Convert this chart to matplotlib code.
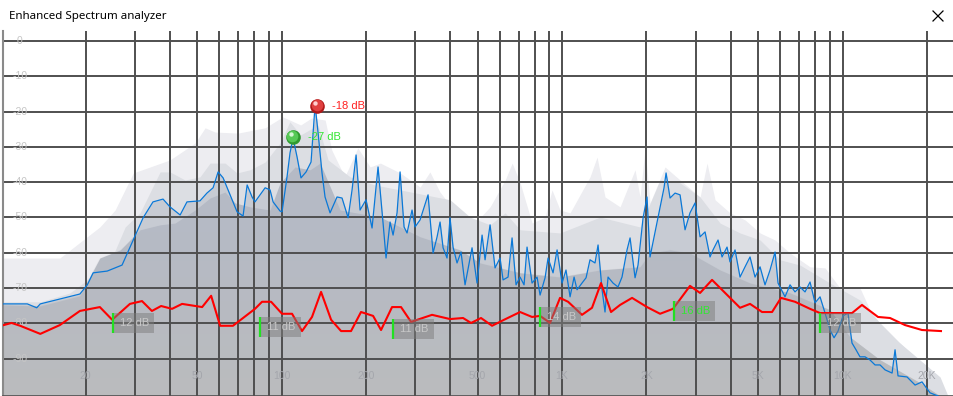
"""Enhanced spectrum analyzer window, redrawn with matplotlib
"""
import matplotlib
matplotlib.use('Agg')
import matplotlib.pyplot as plt
import numpy as np
from matplotlib.lines import Line2D
from matplotlib.patches import Rectangle
from matplotlib.transforms import blended_transform_factory, offset_copy

# live spectrum (blue line)
spec_freq = [10, 12.4, 13.4, 13.8, 19.1, 20.3, 21.3, 23.9, 27.0, 29.6, 32.1, 34.8, 37.8, 40.0,
             43.5, 46.0, 51.2, 54.2, 57.0, 59.4, 61.9, 69.4, 72.9, 75.4, 78.5, 80.4, 87.4, 91.0,
             93.3, 98.8, 100.4, 104.6, 107.2, 109.9, 113.6, 117.3, 122.3, 127.4, 131.7, 135.0,
             139.4, 142.9, 148.9, 157.7, 164.3, 172.7, 178.4, 184.4, 190.5, 200.1, 210.2, 220.8,
             230.1, 235.8, 243.7, 249.8, 258.1, 264.6, 273.4, 280.2, 291.9, 299.2, 311.8, 332.9,
             346.9, 358.5, 367.4, 376.6, 389.0, 398.7, 408.7, 422.3, 436.4, 451.0, 477.7, 497.7,
             518.7, 531.6, 553.9, 577.0, 601.2, 616.2, 642.0, 663.5, 685.5, 708.5, 732.1, 750.3,
             781.8, 814.6, 834.9, 869.9, 891.6, 928.8, 960.1, 1000, 1033, 1068, 1104, 1131, 1178,
             1218, 1258, 1311, 1344, 1389, 1423, 1459, 1520, 1583, 1636, 1705, 1748, 1821, 1866,
             1945, 2009, 2059, 2146, 2236, 2310, 2349, 2427, 2529, 2635, 2745, 2859, 2980, 3105,
             3235, 3370, 3454, 3599, 3719, 3875, 3971, 4138, 4311, 4492, 4680, 4876, 5081, 5293,
             5515, 5747, 5890, 6237, 6499, 6771, 7055, 7351, 7659, 7980, 8315, 8663, 9026, 9327,
             9639, 10040, 10460, 10810, 11170, 11540, 12030, 12530, 13060, 13610, 14180, 15020,
             15390, 15770, 16980, 18140, 19200, 20510, 21900]
spec_db = [-74.5, -74.5, -75.6, -74.5, -71.7, -69.1, -65.7, -65.2, -63.5, -56.4, -50.1, -45.6,
           -44.8, -47.0, -49.3, -45.6, -45.3, -43.1, -41.6, -37.1, -38.8, -48.4, -49.6, -40.8,
           -44.2, -45.6, -41.6, -42.2, -45.6, -48.2, -48.4, -38.5, -31.7, -27.5, -32.9, -38.8,
           -37.1, -34.3, -18.1, -26.1, -37.4, -44.2, -48.7, -44.2, -44.5, -50.1, -42.2, -32.3,
           -47.9, -45.0, -53.0, -35.7, -51.6, -61.5, -51.3, -55.0, -48.7, -37.1, -52.7, -54.4,
           -47.9, -52.7, -50.7, -43.6, -60.1, -55.5, -51.3, -58.6, -61.5, -50.1, -58.4, -62.9,
           -59.8, -69.1, -58.6, -68.6, -55.0, -62.0, -52.1, -64.3, -61.5, -67.7, -66.9, -55.8,
           -69.1, -66.9, -69.1, -58.4, -68.6, -66.9, -72.0, -67.1, -61.5, -65.7, -59.2, -68.6,
           -64.9, -72.5, -66.9, -70.5, -68.6, -67.1, -62.0, -62.9, -57.8, -70.5, -76.8, -66.9,
           -68.6, -69.7, -66.9, -59.2, -55.8, -67.1, -63.5, -50.1, -44.2, -61.2, -54.1, -47.0,
           -41.6, -37.4, -44.5, -43.1, -43.6, -53.5, -48.7, -45.9, -55.5, -54.1, -61.2, -59.2,
           -56.4, -61.2, -58.4, -62.6, -59.2, -66.9, -64.0, -61.2, -66.9, -64.0, -69.1, -64.9,
           -59.8, -68.6, -72.5, -69.1, -71.1, -69.7, -71.1, -68.3, -74.2, -72.5, -77.1, -81.9,
           -84.1, -82.2, -77.9, -77.1, -85.6, -87.5, -89.5, -89.5, -90.4, -91.8, -91.8, -93.2,
           -94.1, -87.5, -94.9, -95.2, -97.5, -96.6, -99.7, -100.6]

# peak hold (lightest layer)
peak_freq = [10, 16.2, 22.5, 25.5, 29.6, 40.0, 49.2, 53.4, 57.9, 70.0, 87.4, 101, 117, 128, 143,
             151, 168, 187, 207, 225, 265, 312, 338, 367, 433, 490, 554, 627, 664, 709, 782, 870,
             921, 984, 1068, 1258, 1333, 1423, 1610, 1821, 1897, 1977, 2059, 2329, 2635, 3105,
             3288, 3512, 3971, 4492, 5081, 5747, 6499, 7659, 8663, 9797, 11540, 12530, 14180,
             16030, 18890, 21370, 23190]
peak_db = [-61.5, -61.5, -52.7, -47.9, -37.4, -33.7, -28.9, -24.6, -25.8, -26.1, -24.6, -21.5,
           -23.8, -21.8, -22.4, -30.9, -38.5, -30.3, -35.7, -34.6, -37.4, -41.4, -37.1, -42.8,
           -50.1, -51.6, -47.0, -39.4, -34.6, -40.2, -51.6, -49.9, -42.2, -47.9, -48.7, -38.5,
           -32.9, -44.2, -47.0, -36.5, -44.2, -30.3, -45.9, -35.7, -39.4, -44.2, -34.6, -45.0,
           -48.7, -50.7, -54.4, -56.4, -60.1, -64.0, -64.3, -70.0, -70.0, -76.2, -82.7, -85.6,
           -91.2, -95.2, -100.6]

# slow average (middle layer)
avg_freq = [10, 13.8, 17.6, 19.6, 21.6, 24.5, 27.7, 31.3, 36.9, 40.0, 45.3, 51.2, 55.6, 62.9,
            69.4, 77.2, 87.4, 98.8, 107, 117, 135, 146.5, 175.5, 215, 265, 325, 399, 470, 554,
            627, 709, 984, 1366, 1897, 2236, 2635, 3105, 3659, 4311, 5081, 5988, 7055, 9026,
            11540, 13610, 16030, 18890, 22270, 23770]
avg_db = [-73.9, -73.9, -71.4, -68.6, -65.7, -62.6, -52.7, -48.7, -37.1, -37.1, -39.4, -38.5,
          -34.6, -34.6, -37.4, -36.5, -34.3, -28.9, -22.9, -26.6, -23.8, -33.7, -38.5, -40.8,
          -42.2, -43.6, -45.0, -49.9, -52.1, -48.7, -53.5, -54.4, -49.9, -52.7, -39.4, -40.2,
          -44.2, -51.6, -54.4, -56.4, -62.0, -63.5, -68.6, -73.4, -79.9, -85.6, -90.4, -95.2,
          -100.6]

# long term mean (dark layer)
mean_freq = [10, 13.8, 19.1, 22.5, 26.6, 31.3, 36.9, 41.7, 49.2, 55.6, 62.9, 68.3, 77.2, 91.0,
             98.8, 111.7, 126.4, 137.2, 161.7, 225, 312, 433, 510, 709, 984, 1366, 1897, 2059,
             2427, 2859, 3659, 4680, 6499, 9026, 10630, 13610, 18890, 22270]
mean_db = [-74.8, -75.1, -72.2, -61.5, -59.2, -53.5, -52.1, -51.6, -47.9, -44.5, -42.8, -45.9,
           -47.0, -47.9, -40.2, -35.7, -36.5, -34.6, -47.9, -49.9, -55.5, -59.2, -62.9, -65.7,
           -66.9, -64.9, -64.0, -60.1, -59.2, -60.1, -64.9, -68.6, -71.4, -76.2, -83.9, -90.4,
           -96.9, -100.6]

# dynamic range curve (red line)
curve_freq = [10, 10.9, 11.7, 13.8, 16.2, 19.1, 22.5, 24.9, 28.8, 31.8, 34.5, 37.2, 40.7, 44.2,
              52.1, 56.1, 60.4, 67.1, 80.4, 85.2, 91.8, 100.4, 109.0, 118.3, 128.4, 138.3, 150.2,
              163.0, 176.9, 192.0, 212.0, 226.3, 247.7, 266.7, 289.5, 344.0, 398.7, 443.7, 473.8,
              514.2, 563.0, 621.3, 708.5, 781.8, 834.9, 906.2, 983.7, 1051, 1178, 1279, 1377,
              1495, 1610, 1777, 2009, 2236, 2487, 2859, 3105, 3426, 4311, 4680, 5165, 5608, 6035,
              6771, 7659, 8315, 10810, 11730, 13380, 14770, 16700, 19200, 22440]
curve_db = [-80.7, -79.9, -80.7, -83.0, -80.5, -76.5, -75.4, -79.0, -74.5, -73.7, -76.5, -75.1,
            -75.9, -74.5, -75.4, -72.2, -80.7, -80.7, -75.9, -73.9, -73.9, -77.3, -77.3, -82.2,
            -78.2, -71.1, -79.0, -82.2, -82.2, -76.8, -77.9, -81.9, -75.4, -75.4, -79.6, -77.6,
            -78.8, -78.5, -79.9, -78.5, -80.7, -79.0, -76.8, -78.2, -77.9, -79.9, -72.8, -73.9,
            -77.6, -75.6, -68.6, -76.8, -74.8, -72.8, -75.4, -77.3, -75.9, -69.4, -71.4, -67.7,
            -75.6, -74.5, -76.8, -76.8, -72.8, -73.9, -75.9, -77.1, -77.1, -74.8, -78.2, -78.5,
            -80.5, -81.9, -82.2]

# band markers on the red curve
marker_freq = [25.1, 83.8, 249.8, 834.9, 2508, 8315]
marker_db = [-79.9, -81.0, -81.6, -78.2, -76.5, -79.9]
marker_text = ['12 dB', '11 dB', '11 dB', '14 dB', '16 dB', '12 dB']
marker_hot = [False, False, False, False, True, False]

# peak balls
ball_freq = [109.9, 133.9]
ball_db = [-27.2, -18.4]
ball_text = ['-27 dB', '-18 dB']
ball_colors = [('#2f9a2f', '#56c956', '#d4f7d4', '#33e633'),
               ('#b01818', '#e04040', '#ffd0d0', '#ff2020')]

grid_freq = [20, 30, 40, 50, 60, 70, 80, 90, 100, 200, 300, 400, 500, 600, 700, 800, 900,
             1000, 2000, 3000, 4000, 5000, 6000, 7000, 8000, 9000, 10000, 20000]
label_freq = [20, 50, 100, 200, 500, 1000, 2000, 5000, 10000, 20000]
label_text = ['20', '50', '100', '200', '500', '1K', '2K', '5K', '10K', '20K']
level_db = [0, -10, -20, -30, -40, -50, -60, -70, -80, -90]

W, H = 954, 396
fig = plt.figure(figsize=(W / 100, H / 100), dpi=100)
fig.patch.set_facecolor('white')
ax = fig.add_axes([3 / W, 0, 951 / W, 365 / H])
ax.set_xscale('log')
ax.set_facecolor('white')
xmin, xmax = 10.16, 24970
ymin, ymax = -100.6, 2.83

ax.fill_between(peak_freq, peak_db, ymin - 5, color='#ededf1', lw=0, zorder=1.0)
ax.fill_between(avg_freq, avg_db, ymin - 5, color='#dcdee3', lw=0, zorder=1.1)
ax.fill_between(spec_freq, spec_db, ymin - 5, color='#c7cbd3', lw=0, zorder=1.2)
dark = ax.fill_between(mean_freq, mean_db, ymin - 5, color='#b5bac5', lw=0, zorder=1.3)

# neutral grey fade towards the bottom
ramp = np.zeros((256, 1, 4))
ramp[..., :3] = 0.74
ramp[..., 3] = np.clip((0.45 - np.linspace(1, 0, 256)) / 0.45, 0, 1)[:, None] * 0.8
im = ax.imshow(ramp, extent=[0, 1, 0, 1], transform=ax.transAxes, aspect='auto',
               zorder=1.35, interpolation='bilinear')
im.set_clip_path(dark.get_paths()[0], ax.transData)

for f in grid_freq:
    ax.axvline(f, color='#4f4f4f', lw=1.4, zorder=2)
for d in level_db:
    ax.axhline(d, color='#4f4f4f', lw=1.4, zorder=2)

ax.plot(spec_freq, spec_db, color='#0a78d7', lw=0.9, zorder=3)
ax.plot(curve_freq, curve_db, color='#ff0000', lw=1.5, zorder=4)

tick_font = dict(family='Liberation Sans', fontsize=7.5)
ylab = blended_transform_factory(ax.transAxes, ax.transData)
for d in level_db:
    ax.text(17 / 951, d, str(d), transform=ylab, ha='center', va='center',
            color='#c6c6c6', zorder=2.5, **tick_font)
xlab = blended_transform_factory(ax.transData, ax.transAxes)
for f, t in zip(label_freq, label_text):
    ax.text(f, 20 / 365, t, transform=xlab, ha='center', va='center',
            color='#a4a6ac', zorder=2.5, **tick_font)

box_span = 10 ** (41 / 280.5)
for f, d, t, hot in zip(marker_freq, marker_db, marker_text, marker_hot):
    ax.add_patch(Rectangle((f, d - 2.83), f * box_span - f, 5.66, facecolor='#7d7d7d',
                           alpha=0.5, lw=0, zorder=5))
    ax.plot([f, f], [d - 2.83, d + 2.83], color='#22e022', lw=1.6, zorder=5.5,
            solid_capstyle='butt')
    ax.text(f * 10 ** (7 / 280.5), d, t, ha='left', va='center', zorder=5.6,
            color='#33e633' if hot else '#c8c8c8', family='Liberation Sans', fontsize=8)

for f, d, t, (edge, face, shine, txt) in zip(ball_freq, ball_db, ball_text, ball_colors):
    ax.scatter([f], [d], s=110, color=edge, zorder=6, lw=0)
    ax.scatter([f], [d], s=70, color=face, zorder=6.1, lw=0,
               transform=offset_copy(ax.transData, fig=fig, x=-0.6, y=0.6, units='dots'))
    ax.scatter([f], [d], s=10, color=shine, zorder=6.2, lw=0,
               transform=offset_copy(ax.transData, fig=fig, x=-2, y=2.5, units='dots'))
    ax.annotate(t, (f, d), xytext=(11, 0), textcoords='offset points', ha='left',
                va='center', color=txt, family='Liberation Sans', fontsize=8, zorder=6.5)

ax.set_xlim(xmin, xmax)
ax.set_ylim(ymin, ymax)
ax.set_xticks([])
ax.set_yticks([])
ax.minorticks_off()
for side in ['top', 'right']:
    ax.spines[side].set_visible(False)
ax.spines['left'].set_color('#8a8a8a')
ax.spines['left'].set_linewidth(1.5)
ax.spines['bottom'].set_color('#505050')
ax.spines['bottom'].set_linewidth(1.2)

# window title bar
fig.text(9 / W, 1 - 16 / H, 'Enhanced Spectrum analyzer', ha='left', va='center',
         family='Noto Sans', fontsize=8.3, color='black')
for xs, ys in [((933, 943), (11, 21)), ((933, 943), (21, 11))]:
    fig.add_artist(Line2D([x / W for x in xs], [1 - y / H for y in ys],
                          transform=fig.transFigure, color='black', lw=0.9))

fig.savefig('out.png', dpi=100)
